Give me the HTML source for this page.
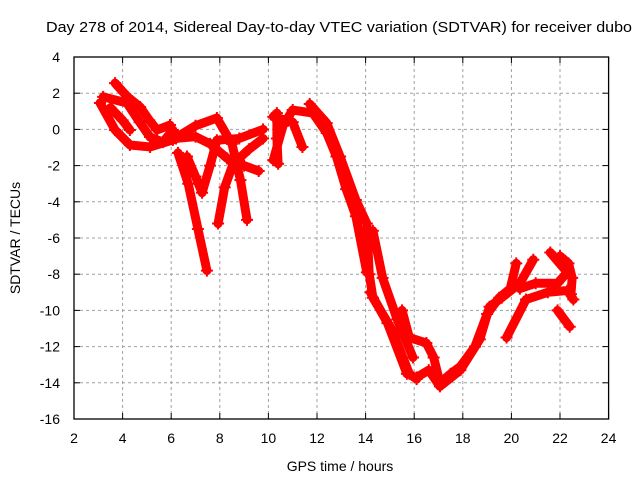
<!DOCTYPE html>
<html><head><meta charset="utf-8"><style>
body{margin:0;background:#fff}
svg{display:block;font-family:"Liberation Sans",sans-serif}
</style></head><body>
<svg id="c" width="640" height="480">
<text x="46" y="32" font-size="14.5" textLength="586" lengthAdjust="spacingAndGlyphs">Day 278 of 2014, Sidereal Day-to-day VTEC variation (SDTVAR) for receiver dubo</text>
<text x="340" y="471" font-size="14" text-anchor="middle">GPS time / hours</text>
<text x="20" y="238" font-size="14" text-anchor="middle" transform="rotate(-90 20 238)">SDTVAR / TECUs</text>
<g id="grid"></g><g id="marks"></g>
<rect x="74" y="57" width="534.6" height="362" fill="none" stroke="#000" stroke-width="1.3"/>
</svg>
<script>
const xTicks=[2,4,6,8,10,12,14,16,18,20,22,24];
const yTicks=[4,2,0,-2,-4,-6,-8,-10,-12,-14,-16];
const track1=[[3.07,1.46],[3.69,-0.03],[4.3,-0.86],[5.13,-0.97],[6.07,-0.58],[6.24,-0.42],[7.0,0.2],[7.88,0.63],[8.5,-0.8],[8.85,-2.8],[9.12,-5.0]];
const track2=[[3.69,2.56],[4.2,1.8],[4.72,1.24],[5.1,0.5],[5.42,-0.03],[5.95,0.24]];
const track3=[[3.2,1.8],[4.18,1.46],[4.7,0.4],[5.13,-0.42],[5.66,-0.7],[6.07,-0.03]];
const track4=[[3.5,1.2],[4.0,0.5],[4.3,-0.03]];
const track5=[[6.28,-1.3],[6.7,-3.0],[7.1,-5.5],[7.47,-7.8]];
const track6=[[6.65,-1.5],[7.0,-2.6],[7.27,-3.5],[7.6,-2.0],[7.88,-0.6],[8.8,-0.5],[9.78,0.0]];
const track7=[[7.93,-5.2],[8.2,-3.2],[8.55,-1.9],[9.2,-1.1],[9.78,-0.5]];
const track8=[[6.2,-0.5],[7.0,-0.4],[7.6,-0.8],[8.3,-1.6],[9.0,-2.0],[9.6,-2.3]];
const track9=[[10.35,0.9],[10.35,-0.5],[10.4,-1.9]];
const track10=[[10.2,-1.7],[10.6,0.2],[11.0,1.07],[11.83,0.9],[12.4,-0.2],[12.8,-1.5],[13.2,-3.3],[13.6,-4.8],[14.05,-7.9]];
const track11=[[10.2,0.7],[11.0,0.4],[11.4,-0.97]];
const track12=[[11.7,1.4],[12.4,0.35],[12.95,-1.5],[13.6,-3.9],[14.05,-5.2],[14.15,-8.0],[14.3,-9.3],[15.1,-11.1],[15.8,-13.5],[16.1,-13.8]];
const track13=[[14.3,-5.6],[14.7,-8.2],[15.3,-10.5],[15.95,-12.6]];
const track14=[[14.2,-9.0],[14.9,-10.7],[15.7,-13.5]];
const track15=[[15.5,-10.0],[15.8,-11.5],[16.5,-11.8],[16.8,-12.6],[17.06,-14.0],[17.5,-13.5],[17.9,-13.1],[18.5,-12.0],[19.0,-10.2],[19.5,-9.3],[19.95,-8.8],[20.2,-7.4]];
const track16=[[16.1,-13.7],[16.6,-13.3],[17.06,-14.2],[17.9,-13.3],[18.7,-11.6],[19.1,-9.8],[19.6,-9.3],[20.35,-8.5],[20.9,-7.2]];
const track17=[[19.8,-11.5],[20.6,-9.4],[21.5,-9.0],[22.3,-8.9],[22.55,-9.4]];
const track18=[[20.35,-8.8],[21.0,-8.5],[21.9,-8.5],[22.3,-7.9],[21.6,-6.8]];
const track19=[[22.0,-7.0],[22.35,-7.4],[22.5,-8.2],[22.45,-9.1]];
const track20=[[21.9,-10.0],[22.4,-10.9]];
const tracks=[track1,track2,track3,track4,track5,track6,track7,track8,track9,track10,track11,track12,track13,track14,track15,track16,track17,track18,track19,track20];
const X0=74,X1=608.6,Y0=57,Y1=419;
const sx=v=>X0+(v-2)/22*(X1-X0);
const sy=v=>Y0+(4-v)/20*(Y1-Y0);
const NS="http://www.w3.org/2000/svg";
const svg=document.getElementById('c'),grid=document.getElementById('grid'),marks=document.getElementById('marks');
function mk(tag,attrs,parent){const e=document.createElementNS(NS,tag);for(const k in attrs)e.setAttribute(k,attrs[k]);parent.appendChild(e);return e;}
xTicks.forEach(t=>{const x=sx(t);
 if(t>2&&t<24){const g=mk('line',{x1:x,x2:x,y1:Y0,y2:Y1,stroke:'#a0a0a0','stroke-dasharray':'3,3'},grid);
 
 }
 const l=mk('text',{x:x,y:443,'font-size':14,'text-anchor':'middle'},svg);l.textContent=t;
 
 
 mk('line',{x1:x,x2:x,y1:Y1,y2:Y1-6,stroke:'#000'},grid);mk('line',{x1:x,x2:x,y1:Y0,y2:Y0+6,stroke:'#000'},grid);});
yTicks.forEach(t=>{const y=sy(t);
 if(t<4&&t>-16){const g=mk('line',{x1:X0,x2:X1,y1:y,y2:y,stroke:'#a0a0a0','stroke-dasharray':'3,3'},grid);
 
 }
 const l=mk('text',{x:60,y:y+5,'font-size':14,'text-anchor':'end'},svg);l.textContent=t;
 
 
 mk('line',{x1:X0,x2:X0+6,y1:y,y2:y,stroke:'#000'},grid);mk('line',{x1:X1,x2:X1-6,y1:y,y2:y,stroke:'#000'},grid);});
tracks.forEach((tr,i)=>{
 const g=mk('g',{},marks);
 
 
 mk('polyline',{points:tr.map(p=>sx(p[0])+','+sy(p[1])).join(' '),fill:'none',stroke:'#ff0000','stroke-width':9,'stroke-linejoin':'round','stroke-linecap':'round'},g);
 tr.forEach(p=>{const x=sx(p[0]),y=sy(p[1]);
  mk('path',{d:`M${x-6},${y}H${x+6}M${x},${y-6}V${y+6}`,stroke:'#ff0000','stroke-width':2},g);});
});
</script>
</body></html>
